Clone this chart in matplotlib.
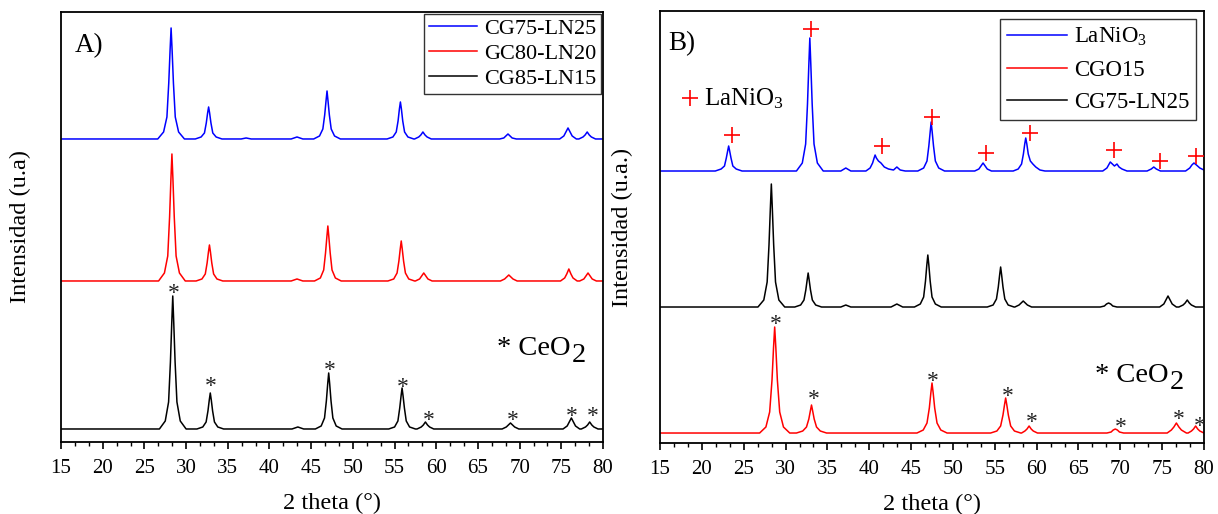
import numpy as np
import matplotlib
matplotlib.use("Agg")
import matplotlib.pyplot as plt
from matplotlib.ticker import MultipleLocator

plt.rcParams['font.family'] = ['Liberation Serif', 'DejaVu Serif']
plt.rcParams['mathtext.fontset'] = 'custom'
plt.rcParams['mathtext.rm'] = 'Liberation Serif'
plt.rcParams['mathtext.it'] = 'Liberation Serif:italic'

# ---------------- data (2theta, intensity above own baseline) ----------------
A_cg75 = [(15,0),
          (26.6,0),(27.3,7),(27.7,22),(27.92,56),(28.08,89),(28.2,111),(28.32,89),(28.48,56),(28.7,22),(29.1,7),(29.8,0),
          (31.1,0),(31.8,2),(32.2,6),(32.42,16),(32.58,26),(32.7,32),(32.82,26),(32.98,16),(33.2,6),(33.6,2),(34.3,0),
          (36.6,0),(37.2,1),(37.8,0),(42.6,0),(43.3,2),(44.0,0),
          (45.3,0),(46.0,3),(46.4,10),(46.62,24),(46.78,38),(46.9,48),(47.02,38),(47.18,24),(47.4,10),(47.8,3),(48.5,0),
          (54.1,0),(54.8,2),(55.2,7),(55.42,18),(55.58,30),(55.7,37),(55.82,30),(55.98,18),(56.2,7),(56.6,2),(57.3,0),
          (57.4,0),(57.9,2),(58.15,4),(58.4,7),(58.65,4),(58.9,2),(59.4,0),
          (67.6,0),(68.1,1),(68.35,3),(68.6,5),(68.85,3),(69.1,1),(69.6,0),
          (74.8,0),(75.3,3),(75.55,7),(75.8,11),(76.05,7),(76.3,3),(76.8,0),
          (77.1,0),(77.6,2),(77.85,4),(78.1,7),(78.35,4),(78.6,2),(79.1,0),(80,0)]
A_gc80 = [(15,0),
          (26.7,0),(27.4,8),(27.8,25),(28.02,64),(28.18,102),(28.3,127),(28.42,102),(28.58,64),(28.8,25),(29.2,8),(29.9,0),
          (31.2,0),(31.9,2),(32.3,7),(32.52,18),(32.68,29),(32.8,36),(32.92,29),(33.08,18),(33.3,7),(33.7,2),(34.4,0),
          (42.6,0),(43.3,2),(44.0,0),
          (45.4,0),(46.1,3),(46.5,11),(46.72,28),(46.88,44),(47.0,55),(47.12,44),(47.28,28),(47.5,11),(47.9,3),(48.6,0),
          (54.2,0),(54.9,2),(55.3,8),(55.52,20),(55.68,32),(55.8,40),(55.92,32),(56.08,20),(56.3,8),(56.7,2),(57.4,0),
          (57.5,0),(58.0,2),(58.25,5),(58.5,8),(58.75,5),(59.0,2),(59.5,0),
          (67.7,0),(68.2,2),(68.45,4),(68.7,6),(68.95,4),(69.2,2),(69.7,0),
          (74.9,0),(75.4,3),(75.65,7),(75.9,12),(76.15,7),(76.4,3),(76.9,0),
          (77.2,0),(77.7,2),(77.95,5),(78.2,8),(78.45,5),(78.7,2),(79.2,0),(80,0)]
A_cg85 = [(15,0),
          (26.8,0),(27.5,8),(27.9,27),(28.12,67),(28.28,106),(28.4,133),(28.52,106),(28.68,67),(28.9,27),(29.3,8),(30.0,0),
          (31.3,0),(32.0,2),(32.4,7),(32.62,18),(32.78,29),(32.9,36),(33.02,29),(33.18,18),(33.4,7),(33.8,2),(34.5,0),
          (42.7,0),(43.4,2),(44.1,0),
          (45.5,0),(46.2,3),(46.6,11),(46.82,28),(46.98,45),(47.1,56),(47.22,45),(47.38,28),(47.6,11),(48.0,3),(48.7,0),
          (54.3,0),(55.0,2),(55.4,8),(55.62,21),(55.78,33),(55.9,41),(56.02,33),(56.18,21),(56.4,8),(56.8,2),(57.5,0),
          (57.7,0),(58.2,2),(58.45,4),(58.7,7),(58.95,4),(59.2,2),(59.7,0),
          (67.9,0),(68.4,2),(68.65,4),(68.9,6),(69.15,4),(69.4,2),(69.9,0),
          (75.2,0),(75.7,3),(75.95,7),(76.2,11),(76.45,7),(76.7,3),(77.2,0),
          (77.4,0),(77.9,2),(78.15,4),(78.4,7),(78.65,4),(78.9,2),(79.4,0),(80,0)]

B_lanio3 = [(15,0),
            (21.6,0),(22.3,2),(22.7,5),(22.92,13),(23.08,20),(23.2,25),(23.32,20),(23.48,13),(23.7,5),(24.1,2),(24.8,0),
            (31.3,0),(32.0,8),(32.4,27),(32.62,67),(32.78,106),(32.9,133),(33.02,106),(33.18,67),(33.4,27),(33.8,8),(34.5,0),
            (36.6,0),(37.2,3),(37.8,0),
            (39.6,0),(40.1,3),(40.4,8),(40.58,13),(40.7,16),(40.85,13),(41.1,10),(41.4,8),(41.8,4),(42.3,2),(42.9,1),
            (43.3,4),(43.7,1),(44.3,0),
            (45.8,0),(46.5,3),(46.9,10),(47.12,25),(47.28,39),(47.4,49),(47.52,39),(47.68,25),(47.9,10),(48.3,3),(49.0,0),
            (52.6,0),(53.1,2),(53.35,5),(53.6,8),(53.85,5),(54.1,2),(54.6,0),
            (57.2,0),(57.8,2),(58.2,7),(58.42,17),(58.58,27),(58.7,33),(58.83,27),(59.0,17),(59.25,10),(59.55,7),
            (59.9,4),(60.4,1),(61.0,0),
            (67.9,0),(68.4,3),(68.6,6),(68.8,9),(69.05,7),(69.3,5),(69.6,7),(69.85,4),(70.2,2),(70.8,0),
            (73.2,0),(73.7,2),(74.0,4),(74.3,2),(74.8,0),
            (77.8,0),(78.3,3),(78.55,6),(78.8,8),(79.1,6),(79.5,3),(80,1)]
B_cgo15 = [(15,0),
           (26.9,0),(27.65,6),(28.1,21),(28.38,53),(28.56,85),(28.7,106),(28.84,85),(29.02,53),(29.3,21),(29.75,6),(30.5,0),
           (31.3,0),(32.05,2),(32.5,6),(32.78,14),(32.96,22),(33.1,28),(33.24,22),(33.42,14),(33.7,6),(34.15,2),(34.9,0),
           (45.7,0),(46.45,3),(46.9,10),(47.18,25),(47.36,40),(47.5,50),(47.64,40),(47.82,25),(48.1,10),(48.55,3),(49.3,0),
           (54.5,0),(55.25,2),(55.7,7),(55.98,18),(56.16,28),(56.3,35),(56.44,28),(56.62,18),(56.9,7),(57.35,2),(58.1,0),
           (58.2,0),(58.6,2),(58.85,4),(59.1,7),(59.35,4),(59.6,2),(60.1,0),
           (68.4,0),(68.9,1),(69.15,3),(69.4,4),(69.65,3),(69.9,1),(70.4,0),
           (75.6,0),(76.1,3),(76.4,6),(76.7,10),(77.0,6),(77.3,3),(77.9,0),
           (78.1,0),(78.5,2),(78.75,4),(79.0,7),(79.25,4),(79.5,2),(80,0)]
B_cg75 = [(15,0),
          (26.7,0),(27.4,7),(27.8,25),(28.02,62),(28.18,98),(28.3,123),(28.42,98),(28.58,62),(28.8,25),(29.2,7),(29.9,0),
          (31.1,0),(31.8,2),(32.2,7),(32.42,17),(32.58,27),(32.7,34),(32.82,27),(32.98,17),(33.2,7),(33.6,2),(34.3,0),
          (36.6,0),(37.2,2),(37.8,0),(42.6,0),(43.3,3),(44.0,0),
          (45.4,0),(46.1,3),(46.5,10),(46.72,26),(46.88,42),(47.0,52),(47.12,42),(47.28,26),(47.5,10),(47.9,3),(48.6,0),
          (54.1,0),(54.8,2),(55.2,8),(55.42,20),(55.58,32),(55.7,40),(55.82,32),(55.98,20),(56.2,8),(56.6,2),(57.3,0),
          (57.4,0),(57.9,2),(58.15,4),(58.4,6),(58.65,4),(58.9,2),(59.4,0),
          (67.6,0),(68.1,1),(68.35,3),(68.6,4),(68.85,3),(69.1,1),(69.6,0),
          (74.7,0),(75.2,3),(75.45,7),(75.7,11),(75.95,7),(76.2,3),(76.7,0),
          (77.0,0),(77.5,2),(77.75,4),(78.0,7),(78.25,4),(78.5,2),(79.0,0),(80,0)]

# stacking offsets of each pattern
A_offsets = {'CG75-LN25': 303, 'GC80-LN20': 161, 'CG85-LN15': 13}
B_offsets = {'LaNiO$_3$': 272, 'CGO15': 10, 'CG75-LN25': 136}

# CeO2 reflections (asterisks) and LaNiO3 reflections (+)
A_star_x = [28.5, 33.0, 47.2, 56.0, 59.1, 69.2, 76.3, 78.8]
A_star_y = [153, 60, 76, 59, 26, 26, 30, 30]
B_star_x = [28.8, 33.4, 47.6, 56.5, 59.4, 70.0, 77.0, 79.5]
B_star_y = [123, 48, 66, 51, 25, 20, 28, 21]
B_plus_x = [23.6, 33.0, 41.5, 47.5, 53.9, 59.2, 69.3, 74.7, 79.0]
B_plus_y = [308, 414, 297, 326, 290, 310, 293, 282, 287]

fig = plt.figure(figsize=(12.18, 5.14), dpi=100)
axA = fig.add_axes([0.0501, 0.1401, 0.4450, 0.8366])
axB = fig.add_axes([0.5419, 0.1381, 0.4466, 0.8405])

def style(ax, ylabel, ylim):
    ax.set_xlim(15, 80)
    ax.set_ylim(0, ylim)
    ax.xaxis.set_major_locator(MultipleLocator(5))
    ax.xaxis.set_minor_locator(MultipleLocator(5 / 3))
    ax.tick_params(axis='x', which='major', direction='out', length=5, width=1.2,
                   labelsize=15, pad=7)
    ax.tick_params(axis='x', which='minor', direction='out', length=3, width=1.0)
    ax.tick_params(axis='y', left=False, labelleft=False)
    for s in ax.spines.values():
        s.set_linewidth(1.3)
    ax.set_xlabel('2 theta (°)', fontsize=17.5)
    ax.set_ylabel(ylabel, fontsize=17.5)
    ax.xaxis.set_label_coords(0.5, -0.118)

def draw(ax, data, offset, color, label):
    arr = np.array(data, dtype=float)
    ax.plot(arr[:, 0], arr[:, 1] + offset, color=color, lw=1.1, label=label)

style(axA, 'Intensidad (u.a)', 430)
style(axB, 'Intensidad (u.a.)', 432)
axA.yaxis.set_label_coords(-0.056, 0.5)
axB.yaxis.set_label_coords(-0.050, 0.5)

draw(axA, A_cg75, A_offsets['CG75-LN25'], '#0000ff', 'CG75-LN25')
draw(axA, A_gc80, A_offsets['GC80-LN20'], '#ff0000', 'GC80-LN20')
draw(axA, A_cg85, A_offsets['CG85-LN15'], 'black', 'CG85-LN15')

draw(axB, B_lanio3, B_offsets['LaNiO$_3$'], '#0000ff', 'LaNiO$_3$')
draw(axB, B_cgo15, B_offsets['CGO15'], '#ff0000', 'CGO15')
draw(axB, B_cg75, B_offsets['CG75-LN25'], 'black', 'CG75-LN25')

star_shift = 10
for x, y in zip(A_star_x, A_star_y):
    axA.text(x, y - star_shift, '*', ha='center', va='baseline', fontsize=17, color='#222222')
for x, y in zip(B_star_x, B_star_y):
    axB.text(x, y - star_shift, '*', ha='center', va='baseline', fontsize=17, color='#222222')
axB.scatter(B_plus_x, B_plus_y, marker='+', s=120, color='#ff0000', linewidths=1.2, zorder=3)

# panel letters
axA.text(16.6, 390, 'A)', fontsize=19.5, ha='left', va='baseline')
axB.text(16.0, 393, 'B)', fontsize=19.5, ha='left', va='baseline')

# CeO2 labels
for ax, (x, y) in ((axA, (67.3, 87)), (axB, (67.0, 61))):
    t = ax.text(x, y, '* CeO', fontsize=20.5, ha='left', va='baseline')
    ax.annotate('2', xy=(1, 0), xycoords=t, xytext=(0.5, -5), textcoords='offset points',
                fontsize=20.5, ha='left', va='bottom')

# LaNiO3 marker label
axB.scatter([18.6], [345], marker='+', s=120, color='#ff0000', linewidths=1.2)
axB.text(20.2, 338, 'LaNiO$_3$', fontsize=18, ha='left', va='baseline')

legA = axA.legend(loc='upper right', fontsize=16, frameon=True, fancybox=False,
                  edgecolor='black', borderaxespad=0.1, handlelength=2.2, handletextpad=0.3,
                  labelspacing=0.2, borderpad=0.2)
legA.get_frame().set_linewidth(1.0)
legB = axB.legend(loc='upper right', fontsize=16.5, frameon=True, fancybox=False,
                  edgecolor='black', borderaxespad=0.35, handlelength=2.6, handletextpad=0.3,
                  labelspacing=0.5, borderpad=0.3)
legB.get_frame().set_linewidth(1.0)

fig.savefig('out.png', dpi=100)
